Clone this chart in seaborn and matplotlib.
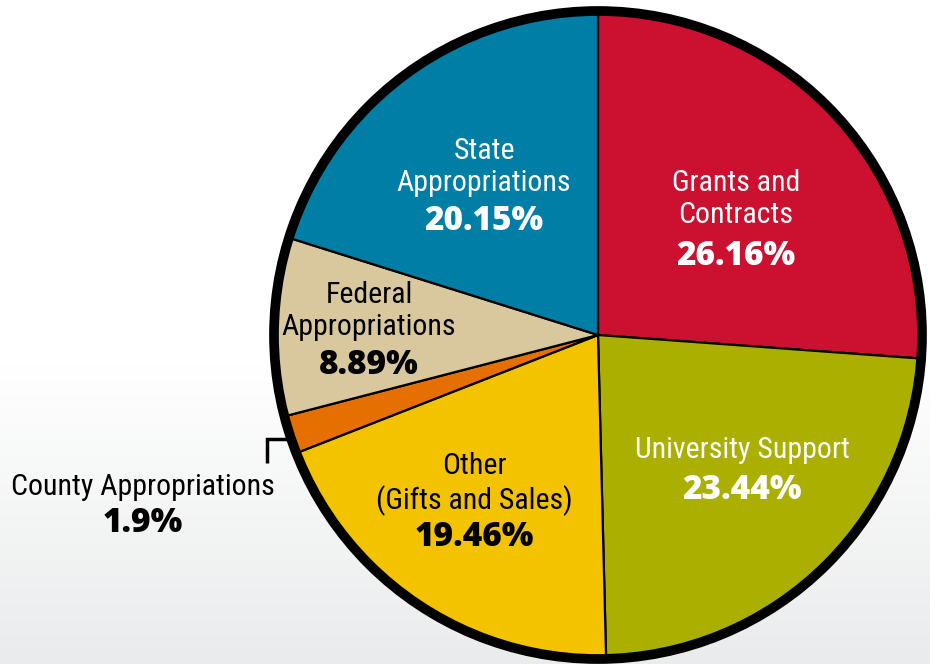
import numpy as np
import matplotlib
matplotlib.use("Agg")
import matplotlib.pyplot as plt
from matplotlib.patches import Circle
from matplotlib import font_manager
import seaborn as sns

categories = ["Grants and\nContracts", "University Support", "Other\n(Gifts and Sales)",
              "County Appropriations", "Federal\nAppropriations", "State\nAppropriations"]
values = [26.16, 23.44, 19.46, 1.9, 8.89, 20.15]
pct_labels = ["26.16%", "23.44%", "19.46%", "1.9%", "8.89%", "20.15%"]
colors = ["#cc1030", "#aaaf00", "#f3c300", "#e56f00", "#d9c89e", "#007ea6"]

sns.set_theme(style="white")
names = {f.name for f in font_manager.fontManager.ttflist}
cond = [n for n in ["Roboto Condensed", "Liberation Sans Narrow", "Roboto"] if n in names]
plt.rcParams['font.family'] = cond + ['DejaVu Sans']

W, H = 930, 664
fig = plt.figure(figsize=(W / 100, H / 100), dpi=100)

# background gradient
bg = fig.add_axes([0, 0, 1, 1], zorder=-1)
yy = np.linspace(0, 1, 300)
grad = np.clip((yy - 0.55) / 0.45, 0, 1)
col_top = np.array([1.0, 1.0, 1.0])
col_bot = np.array([0.918, 0.922, 0.925])
img = col_top[None, :] * (1 - grad[:, None]) + col_bot[None, :] * grad[:, None]
img = np.repeat(img[:, None, :], 2, axis=1)
bg.imshow(img, aspect="auto", extent=[0, 1, 1, 0])
bg.set_axis_off()

ax = fig.add_axes([0, 0, 1, 1])
ax.patch.set_alpha(0)
cx, cy, r = 598, H - 335, 322
ax.pie(values, colors=colors, startangle=90, counterclock=False,
       center=(cx, cy), radius=r,
       wedgeprops=dict(edgecolor="black", linewidth=1.6))
ax.add_patch(Circle((cx, cy), r + 2, fill=False, edgecolor="black", linewidth=7))
ax.set_xlim(0, W)
ax.set_ylim(0, H)
ax.set_aspect("equal")
ax.set_axis_off()

# label positions (pixel coords from top)
label_pos = {
    0: (736, 199, 256),
    1: (742, 450, 490),
    2: (474, 484, 537),
    3: (143, 487, 523),
    4: (369, 311, 365),
    5: (484, 167, 221),
}
for i, (name, pct) in enumerate(zip(categories, pct_labels)):
    x, yname, ypct = label_pos[i]
    tc = "black" if i in (2, 3, 4) else "white"
    ax.text(x, H - yname, name, ha="center", va="center", fontsize=21.5,
            color=tc, linespacing=1.2, fontstretch="condensed")
    ax.text(x, H - ypct, pct, ha="center", va="center", fontsize=24,
            color=tc, fontweight="heavy", family=["Open Sans", "Lato", "DejaVu Sans"])

# leader bracket for County
ax.plot([267, 267, 290], [H - 463, H - 439, H - 439], color="black",
        linewidth=2.5, solid_capstyle="butt", solid_joinstyle="miter")

fig.savefig("out.png", dpi=100)
